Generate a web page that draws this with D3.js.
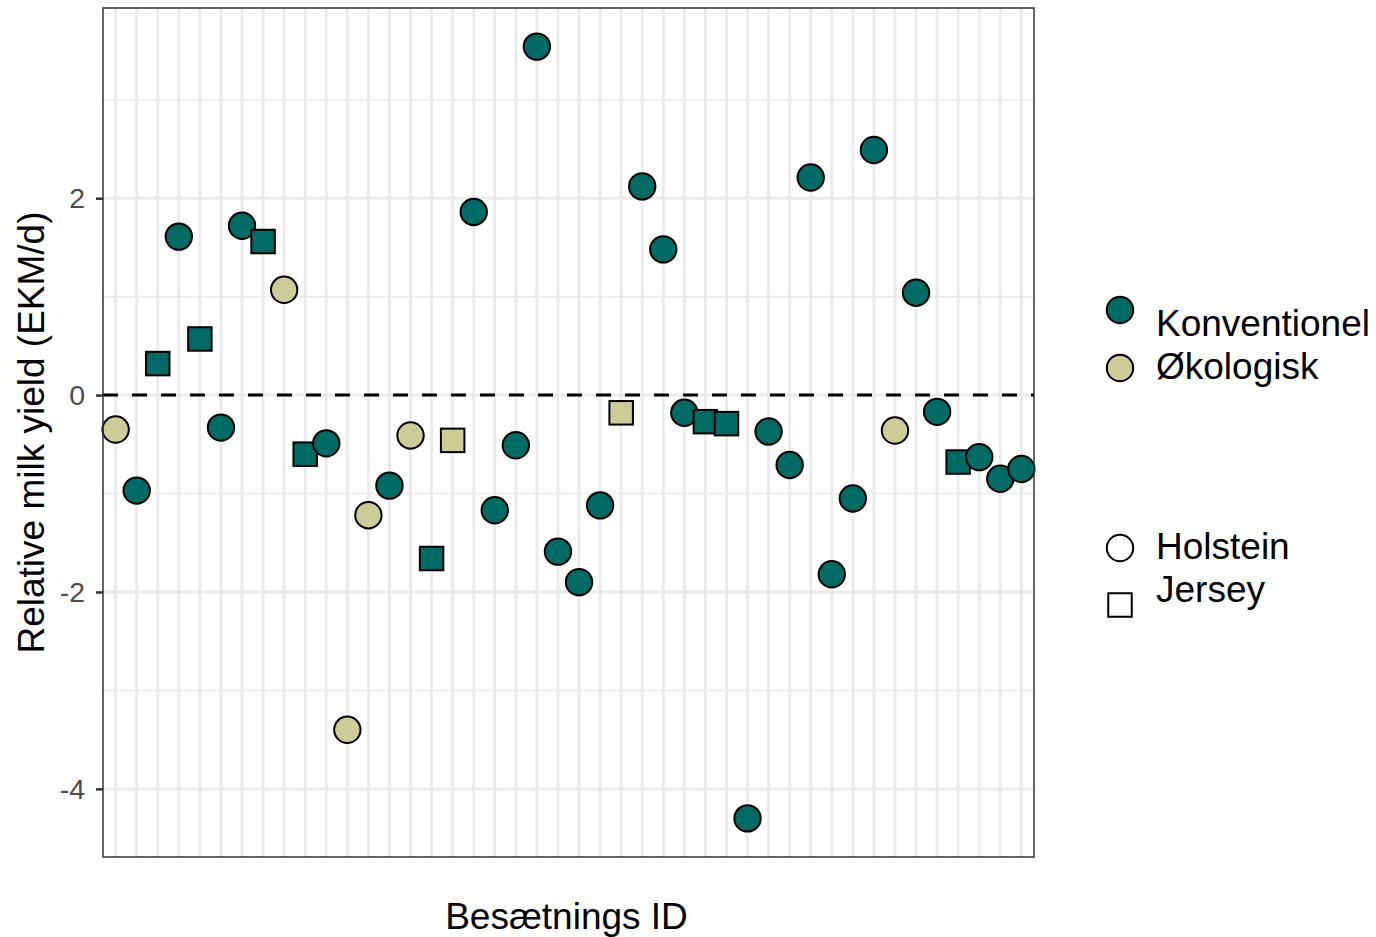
<!DOCTYPE html>
<html>
<head>
<meta charset="utf-8">
<script src="https://cdn.jsdelivr.net/npm/d3@7"></script>
<style>
  body { margin: 0; background: #ffffff; }
  text { font-family: "Liberation Sans", Arial, sans-serif; }
</style>
</head>
<body>
<div id="chart"></div>
<script>
// data, herds in plotted order
let herdIds = d3.range(1, 45).map(String);
let yieldValues = [
  -0.35, -0.97, 0.32, 1.61, 0.57, -0.33, 1.72, 1.56, 1.07, -0.60,
  -0.49, -3.40, -1.22, -0.92, -0.41, -1.66, -0.46, 1.86, -1.17, -0.51,
  3.54, -1.59, -1.90, -1.12, -0.18, 2.12, 1.48, -0.18, -0.27, -0.29,
  -4.30, -0.37, -0.71, 2.21, -1.82, -1.05, 2.49, -0.36, 1.04, -0.17,
  -0.68, -0.63, -0.85, -0.75
];
let systems = [
  "Økologisk", "Konventionel", "Konventionel", "Konventionel", "Konventionel",
  "Konventionel", "Konventionel", "Konventionel", "Økologisk", "Konventionel",
  "Konventionel", "Økologisk", "Økologisk", "Konventionel", "Økologisk",
  "Konventionel", "Økologisk", "Konventionel", "Konventionel", "Konventionel",
  "Konventionel", "Konventionel", "Konventionel", "Konventionel", "Økologisk",
  "Konventionel", "Konventionel", "Konventionel", "Konventionel", "Konventionel",
  "Konventionel", "Konventionel", "Konventionel", "Konventionel", "Konventionel",
  "Konventionel", "Konventionel", "Økologisk", "Konventionel", "Konventionel",
  "Konventionel", "Konventionel", "Konventionel", "Konventionel"
];
let breeds = [
  "Holstein", "Holstein", "Jersey", "Holstein", "Jersey",
  "Holstein", "Holstein", "Jersey", "Holstein", "Jersey",
  "Holstein", "Holstein", "Holstein", "Holstein", "Holstein",
  "Jersey", "Jersey", "Holstein", "Holstein", "Holstein",
  "Holstein", "Holstein", "Holstein", "Holstein", "Jersey",
  "Holstein", "Holstein", "Holstein", "Jersey", "Jersey",
  "Holstein", "Holstein", "Holstein", "Holstein", "Holstein",
  "Holstein", "Holstein", "Holstein", "Holstein", "Holstein",
  "Jersey", "Holstein", "Holstein", "Holstein"
];
let systemLevels = ["Konventionel", "Økologisk"];
let breedLevels = ["Holstein", "Jersey"];
let yTicks = [-4, -2, 0, 2];
let yTickLabels = ["-4", "-2", "0", "2"];
let yMinorTicks = [-3, -1, 1, 3];

let data = herdIds.map((id, i) => ({id: id, value: yieldValues[i], system: systems[i], breed: breeds[i]}));

let w = 1376; let h = 937;
let padLeft = 103; let padTop = 8; let pw = 931; let ph = 849;

let svg = d3.select("#chart").append("svg")
  .attr("width", w).attr("height", h);

//scales
let ext = d3.extent(yieldValues);
let pad = (ext[1] - ext[0]) * 0.05;
let y = d3.scaleLinear().domain([ext[0] - pad, ext[1] + pad]).range([ph, 0]);
let x = d3.scalePoint().domain(herdIds).range([0, pw]).padding(0.6);
let fill = d3.scaleOrdinal().domain(systemLevels).range(["#006a64", "#cccc99"]);

let panel = svg.append("g").attr("transform", "translate(" + padLeft + "," + padTop + ")");

//grid
panel.selectAll(".minor").data(yMinorTicks).enter().append("line")
  .attr("x1", 0).attr("x2", pw)
  .attr("y1", d => y(d)).attr("y2", d => y(d))
  .attr("stroke", "#ebebeb").attr("stroke-width", 1.6);

panel.selectAll(".major").data(yTicks).enter().append("line")
  .attr("x1", 0).attr("x2", pw)
  .attr("y1", d => y(d)).attr("y2", d => y(d))
  .attr("stroke", "#ebebeb").attr("stroke-width", 3);

panel.selectAll(".vgrid").data(herdIds).enter().append("line")
  .attr("x1", d => x(d)).attr("x2", d => x(d))
  .attr("y1", 0).attr("y2", ph)
  .attr("stroke", "#ebebeb").attr("stroke-width", 3);

//reference line at zero
panel.append("line")
  .attr("x1", 0).attr("x2", pw)
  .attr("y1", y(0)).attr("y2", y(0))
  .attr("stroke", "#000000").attr("stroke-width", 3)
  .attr("stroke-dasharray", "15,14");

//points
let sq = 23.5;
let marks = panel.selectAll(".pt").data(data).enter().append("g")
  .attr("transform", d => "translate(" + x(d.id) + "," + y(d.value) + ")");

marks.filter(d => d.breed === "Holstein").append("circle")
  .attr("r", 13.2)
  .attr("fill", d => fill(d.system))
  .attr("stroke", "#000000").attr("stroke-width", 2);

marks.filter(d => d.breed === "Jersey").append("rect")
  .attr("x", -sq / 2).attr("y", -sq / 2)
  .attr("width", sq).attr("height", sq)
  .attr("fill", d => fill(d.system))
  .attr("stroke", "#000000").attr("stroke-width", 2);

//panel border
panel.append("rect")
  .attr("width", pw).attr("height", ph)
  .attr("fill", "none").attr("stroke", "#333333").attr("stroke-width", 1.5);

//y axis
let yAxis = panel.append("g")
  .call(d3.axisLeft(y).tickValues(yTicks).tickSize(7).tickPadding(11)
    .tickFormat((d, i) => yTickLabels[i]));
yAxis.select(".domain").remove();
yAxis.selectAll("line").attr("stroke", "#333333").attr("stroke-width", 2.5);
yAxis.selectAll("text")
  .attr("font-size", "28.5px")
  .attr("fill", "#4d4d4d")
  .attr("font-family", "Liberation Sans, Arial, sans-serif");

//axis titles
svg.append("text")
  .attr("transform", "translate(44," + (padTop + ph / 2) + ") rotate(-90)")
  .attr("text-anchor", "middle")
  .attr("font-size", "37px")
  .attr("fill", "#000000")
  .text("Relative milk yield (EKM/d)");

svg.append("text")
  .attr("x", padLeft + pw / 2 - 2).attr("y", 929)
  .attr("text-anchor", "middle")
  .attr("font-size", "37px")
  .attr("fill", "#000000")
  .text("Besætnings ID");

//legends
let legendFill = svg.append("g");
let fillKeyY = [310, 368];
let fillTextY = [336, 379];
legendFill.selectAll("circle").data(systemLevels).enter().append("circle")
  .attr("cx", 1120).attr("cy", (d, i) => fillKeyY[i])
  .attr("r", 13.2)
  .attr("fill", d => fill(d))
  .attr("stroke", "#000000").attr("stroke-width", 2);
legendFill.selectAll("text").data(systemLevels).enter().append("text")
  .attr("x", 1156).attr("y", (d, i) => fillTextY[i])
  .attr("font-size", "37px")
  .text(d => d);

let legendShape = svg.append("g");
let shapeKeyY = [548, 605];
let shapeTextY = [559, 602];
legendShape.append("circle")
  .attr("cx", 1120).attr("cy", shapeKeyY[0])
  .attr("r", 13.2)
  .attr("fill", "#ffffff")
  .attr("stroke", "#000000").attr("stroke-width", 2);
legendShape.append("rect")
  .attr("x", 1120 - sq / 2).attr("y", shapeKeyY[1] - sq / 2)
  .attr("width", sq).attr("height", sq)
  .attr("fill", "#ffffff")
  .attr("stroke", "#000000").attr("stroke-width", 2);
legendShape.selectAll("text").data(breedLevels).enter().append("text")
  .attr("x", 1156).attr("y", (d, i) => shapeTextY[i])
  .attr("font-size", "37px")
  .text(d => d);
</script>
</body>
</html>
